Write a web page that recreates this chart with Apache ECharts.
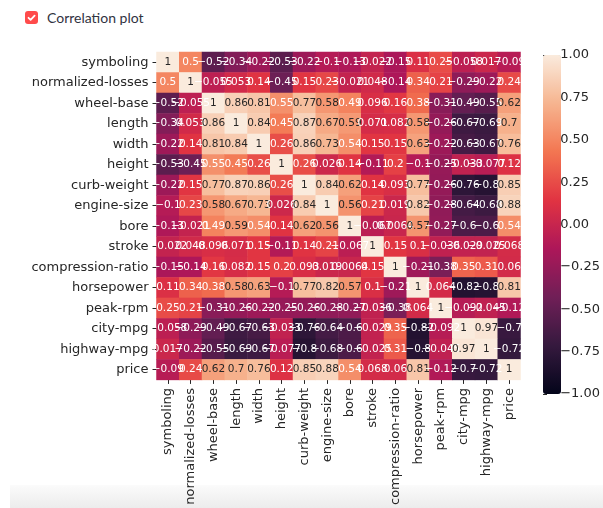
<!DOCTYPE html>
<html>
<head>
<meta charset="utf-8">
<title>Correlation plot</title>
<script src="https://cdn.jsdelivr.net/npm/echarts@6/dist/echarts.min.js"></script>
<style>
  html, body { margin: 0; padding: 0; background: #ffffff; }
  #page { position: relative; width: 603px; height: 508px; overflow: hidden; }
  .toggle { position: absolute; left: 25px; top: 9px; height: 16px; display: flex; align-items: center;
            font-family: 'Lato', 'Noto Sans', sans-serif; font-size: 14px; color: #31333F; }
  .box { width: 13px; height: 13px; border-radius: 3px; background: #FF4B4B; margin-right: 9px; position: relative; }
  .box svg { position: absolute; left: 0; top: 0; }
  #foot { position: absolute; left: 10px; top: 485px; width: 593px; height: 23px;
          background: linear-gradient(#fbfbfb, #ececec); }
  #chart { position: absolute; left: 0; top: 0; width: 603px; height: 508px; }
</style>
</head>
<body>
<div id="page">
  <div id="foot"></div>
  <div class="toggle">
    <div class="box"><svg width="13" height="13" viewBox="0 0 13 13"><polyline points="3.5,6.8 5.6,8.8 9.6,4.6" fill="none" stroke="#ffffff" stroke-width="1.8" stroke-linecap="round" stroke-linejoin="round"/></svg></div>
    <span>Correlation plot</span>
  </div>
  <div id="chart"></div>
</div>
<script>
// Variable names, in matrix order
const variables = ['symboling', 'normalized-losses', 'wheel-base', 'length', 'width', 'height',
  'curb-weight', 'engine-size', 'bore', 'stroke', 'compression-ratio', 'horsepower',
  'peak-rpm', 'city-mpg', 'highway-mpg', 'price'];

// Pearson correlation rows (one per variable)
const symboling        = [1, 0.5, -0.52, -0.34, -0.22, -0.53, -0.22, -0.1, -0.13, -0.022, -0.15, 0.11, 0.25, -0.058, 0.017, -0.09];
const normalizedLosses = [0.5, 1, -0.055, 0.053, 0.14, -0.45, 0.15, 0.23, -0.021, 0.048, -0.14, 0.34, 0.21, -0.29, -0.22, 0.24];
const wheelBase        = [-0.52, -0.055, 1, 0.86, 0.81, 0.55, 0.77, 0.58, 0.49, 0.096, 0.16, 0.38, -0.31, -0.49, -0.55, 0.62];
const length           = [-0.34, 0.053, 0.86, 1, 0.84, 0.45, 0.87, 0.67, 0.59, 0.071, 0.082, 0.58, -0.26, -0.67, -0.69, 0.7];
const width            = [-0.22, 0.14, 0.81, 0.84, 1, 0.26, 0.86, 0.73, 0.54, 0.15, 0.15, 0.63, -0.22, -0.63, -0.67, 0.76];
const height           = [-0.53, -0.45, 0.55, 0.45, 0.26, 1, 0.26, 0.026, 0.14, -0.11, 0.2, -0.1, -0.25, -0.033, -0.077, 0.12];
const curbWeight       = [-0.22, 0.15, 0.77, 0.87, 0.86, 0.26, 1, 0.84, 0.62, 0.14, 0.093, 0.77, -0.26, -0.76, -0.8, 0.85];
const engineSize       = [-0.1, 0.23, 0.58, 0.67, 0.73, 0.026, 0.84, 1, 0.56, 0.21, 0.019, 0.82, -0.28, -0.64, -0.68, 0.88];
const bore             = [-0.13, -0.021, 0.49, 0.59, 0.54, 0.14, 0.62, 0.56, 1, -0.067, 0.0064, 0.57, -0.27, -0.6, -0.6, 0.54];
const stroke           = [-0.022, 0.048, 0.096, 0.071, 0.15, -0.11, 0.14, 0.21, -0.067, 1, 0.15, 0.1, -0.036, -0.029, -0.025, 0.068];
const compressionRatio = [-0.15, -0.14, 0.16, 0.082, 0.15, 0.2, 0.093, 0.019, 0.0064, 0.15, 1, -0.21, -0.38, 0.35, 0.31, 0.06];
const horsepower       = [0.11, 0.34, 0.38, 0.58, 0.63, -0.1, 0.77, 0.82, 0.57, 0.1, -0.21, 1, 0.064, -0.82, -0.8, 0.81];
const peakRpm          = [0.25, 0.21, -0.31, -0.26, -0.22, -0.25, -0.26, -0.28, -0.27, -0.036, -0.38, 0.064, 1, -0.092, -0.045, -0.12];
const cityMpg          = [-0.058, -0.29, -0.49, -0.67, -0.63, -0.033, -0.76, -0.64, -0.6, -0.029, 0.35, -0.82, -0.092, 1, 0.97, -0.7];
const highwayMpg       = [0.017, -0.22, -0.55, -0.69, -0.67, -0.077, -0.8, -0.68, -0.6, -0.025, 0.31, -0.8, -0.045, 0.97, 1, -0.72];
const price            = [-0.09, 0.24, 0.62, 0.7, 0.76, 0.12, 0.85, 0.88, 0.54, 0.068, 0.06, 0.81, -0.12, -0.7, -0.72, 1];

const matrixRows = [symboling, normalizedLosses, wheelBase, length, width, height, curbWeight,
  engineSize, bore, stroke, compressionRatio, horsepower, peakRpm, cityMpg, highwayMpg, price];

// Colour bar range and tick step
const colorMin = -1;
const colorMax = 1;
const colorStep = 0.25;

// "rocket" colour ramp, evenly spaced stops from low to high
const rocket = ['#03051A', '#35193E', '#701F57', '#AD1759', '#E13342', '#F37651', '#F6B48F', '#FAEBDD'];

function hexToRgb(h) {
  return [parseInt(h.slice(1, 3), 16), parseInt(h.slice(3, 5), 16), parseInt(h.slice(5, 7), 16)];
}
function rampColor(v) {
  const t = Math.min(1, Math.max(0, (v - colorMin) / (colorMax - colorMin)));
  const pos = t * (rocket.length - 1);
  const i = Math.min(rocket.length - 2, Math.floor(pos));
  const f = pos - i;
  const a = hexToRgb(rocket[i]), b = hexToRgb(rocket[i + 1]);
  return a.map((c, k) => c + (b[k] - c) * f);
}
function luminance(rgb) {
  const lin = rgb.map(c => {
    c /= 255;
    return c <= 0.03928 ? c / 12.92 : Math.pow((c + 0.055) / 1.055, 2.4);
  });
  return 0.2126 * lin[0] + 0.7152 * lin[1] + 0.0722 * lin[2];
}
// two significant digits, typographic minus
function fmt(v) {
  return String(parseFloat(Number(v).toPrecision(2))).replace('-', '\u2212');
}

const cells = [];
matrixRows.forEach((row, r) => {
  row.forEach((v, c) => {
    const textColor = luminance(rampColor(v)) > 0.408 ? '#262626' : '#ffffff';
    cells.push({ value: [c, r, v], label: { color: textColor } });
  });
});

const tickFont = { fontFamily: 'DejaVu Sans', fontSize: 13, color: '#262626' };

const chart = echarts.init(document.getElementById('chart'), null, { renderer: 'canvas' });
chart.setOption({
  animation: false,
  backgroundColor: 'transparent',
  grid: [
    { left: 156.5, top: 52, width: 364, height: 341.5 },
    { left: 543, top: 55, width: 18, height: 339 }
  ],
  xAxis: [
    {
      type: 'category', data: variables, gridIndex: 0, position: 'bottom',
      axisLine: { show: false },
      axisTick: { show: true, alignWithLabel: true, interval: 0, length: 4, lineStyle: { color: '#262626' } },
      axisLabel: Object.assign({ interval: 0, rotate: 90, margin: 8 }, tickFont),
      splitLine: { show: false }
    },
    { type: 'value', gridIndex: 1, show: false, min: 0, max: 1 }
  ],
  yAxis: [
    {
      type: 'category', data: variables, gridIndex: 0, inverse: true,
      axisLine: { show: false },
      axisTick: { show: true, alignWithLabel: true, interval: 0, length: 4, lineStyle: { color: '#262626' } },
      axisLabel: Object.assign({ interval: 0, margin: 8 }, tickFont),
      splitLine: { show: false }
    },
    {
      type: 'value', gridIndex: 1, position: 'right', min: colorMin, max: colorMax, interval: colorStep,
      axisLine: { show: false },
      axisTick: { show: true, length: 4, lineStyle: { color: '#262626' } },
      axisLabel: Object.assign({ margin: 6, formatter: v => v.toFixed(2).replace('-', '\u2212') }, tickFont),
      splitLine: { show: false }
    }
  ],
  visualMap: {
    type: 'continuous', seriesIndex: 0, min: colorMin, max: colorMax,
    calculable: false, orient: 'vertical', left: 543, top: 55,
    itemWidth: 18, itemHeight: 339, padding: 0,
    inRange: { color: rocket }
  },
  series: [
    {
      type: 'heatmap', xAxisIndex: 0, yAxisIndex: 0, data: cells,
      label: {
        show: true, fontFamily: 'DejaVu Sans', fontSize: 10.5,
        formatter: p => fmt(p.value[2])
      },
      itemStyle: { borderWidth: 0 },
      emphasis: { disabled: true }
    },
    { type: 'scatter', xAxisIndex: 1, yAxisIndex: 1, data: [], silent: true }
  ]
});
</script>
</body>
</html>
